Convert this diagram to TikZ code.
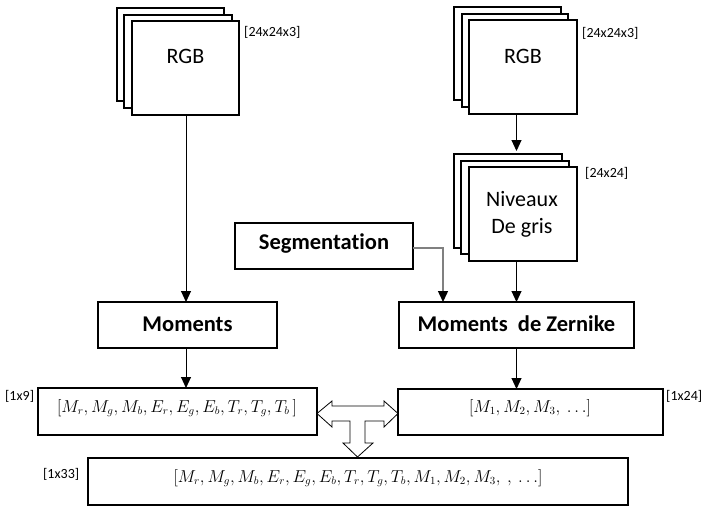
\documentclass[tikz,border=0pt]{standalone}
\usepackage{fontspec}
\setmainfont[Ligatures=NoCommon]{Carlito}
\usetikzlibrary{arrows.meta,calc}
\begin{document}
\begin{tikzpicture}[x=1pt,y=-1pt,
 box/.style={draw=black, line width=1.2pt, fill=white, inner sep=0pt, outer sep=0pt},
 arr/.style={-{Triangle[length=11pt,width=10pt,color=black]}, line width=1pt},
 lbl/.style={font=\fontsize{14}{16}\selectfont, inner sep=0pt, anchor=west},
 ttl/.style={font=\fontsize{22}{27}\selectfont, inner sep=0pt},
 bld/.style={font=\fontsize{22.5}{26}\selectfont\bfseries, inner sep=0pt},
 mth/.style={font=\fontsize{16}{20}\selectfont, inner sep=0pt}]
\useasboundingbox (0,0) rectangle (706,507);
% left RGB stack
\node[box, minimum width=107pt, minimum height=93pt] (rgbAback) at (170.5,54.5) {};
\node[box, minimum width=108pt, minimum height=93pt] (rgbAmid) at (178,61.5) {};
\node[box, minimum width=107pt, minimum height=94pt] (rgbA) at (185.5,68) {};
\node[ttl] (rgbAtxt) at (185.5,56) {RGB};
\node[lbl] (rgbAlbl) at (244,32) {[24x24x3]};
% right RGB stack
\node[box, minimum width=107pt, minimum height=93pt] (rgbBback) at (507.5,53.5) {};
\node[box, minimum width=106pt, minimum height=93pt] (rgbBmid) at (515,60.5) {};
\node[box, minimum width=108pt, minimum height=94pt] (rgbB) at (523,67) {};
\node[ttl] (rgbBtxt) at (523,56) {RGB};
\node[lbl] (rgbBlbl) at (582,33) {[24x24x3]};
% grey levels stack
\node[box, minimum width=108pt, minimum height=94pt] (nivback) at (508,201) {};
\node[box, minimum width=108pt, minimum height=93pt] (nivmid) at (515,207.5) {};
\node[box, minimum width=108pt, minimum height=94pt] (niv) at (523,214) {};
\node[ttl, align=center] (nivtxt) at (522,214.5) {Niveaux\\De gris};
\node[lbl] (nivlbl) at (585,173) {[24x24]};
% process boxes
\node[box, minimum width=178pt, minimum height=46pt] (seg) at (324,246) {};
\node[bld] (segtxt) at (324,244) {Segmentation};
\node[box, minimum width=179pt, minimum height=46pt] (mom) at (187.5,325) {};
\node[bld] (momtxt) at (187.5,324) {Moments};
\node[box, minimum width=235pt, minimum height=46pt] (zern) at (516.5,325) {};
\node[bld] (zerntxt) at (516.5,324) {Moments\ \ de Zernike};
% vectors
\node[box, minimum width=279pt, minimum height=47pt] (vecL) at (177.5,411.5) {};
\node[mth] (vecLtxt) at (177,408) {$[M_r,M_g,M_b,E_r,E_g,E_b,T_r,T_g,T_b\,]$};
\node[lbl] (vecLlbl) at (5,396) {[1x9]};
\node[box, minimum width=265pt, minimum height=46pt] (vecR) at (530.5,412) {};
\node[mth] (vecRtxt) at (530,408) {$[M_1,M_2,M_3,\ \ldots]$};
\node[lbl] (vecRlbl) at (666,396) {[1x24]};
\node[box, minimum width=540pt, minimum height=47pt] (vecB) at (358,481.5) {};
\node[mth] (vecBtxt) at (358,478) {$[M_r,M_g,M_b,E_r,E_g,E_b,T_r,T_g,T_b,M_1,M_2,M_3,\ ,\ \ldots]$};
\node[lbl] (vecBlbl) at (43,474) {[1x33]};
% connectors
\coordinate (segin) at (443,302);
\draw[arr] (186,115) -- (186,302);
\draw[arr] (186,348) -- (186,388);
\draw[arr, shorten >=3pt] (rgbB.south -| zern.north) -- (nivback.north -| zern.north);
\draw[arr] (niv.south -| zern.north) -- (zern.north);
\draw[arr] (zern.south) -- (vecR.north -| zern.south);
\draw[arr, draw=black!50, line width=1.4pt] (seg.east |- 0,248) -| (segin);
% T-shaped block arrow
\draw[line width=0.8pt, fill=white, line join=miter]
 (317,413.5) -- (332,401) -- (332,406) -- (384,406) -- (384,401) -- (398,413.5)
 -- (384,427) -- (384,421) -- (365,421) -- (365,443) -- (373,443) -- (357.5,457)
 -- (343,443) -- (350,443) -- (350,421) -- (332,421) -- (332,427) -- cycle;
\end{tikzpicture}
\end{document}
